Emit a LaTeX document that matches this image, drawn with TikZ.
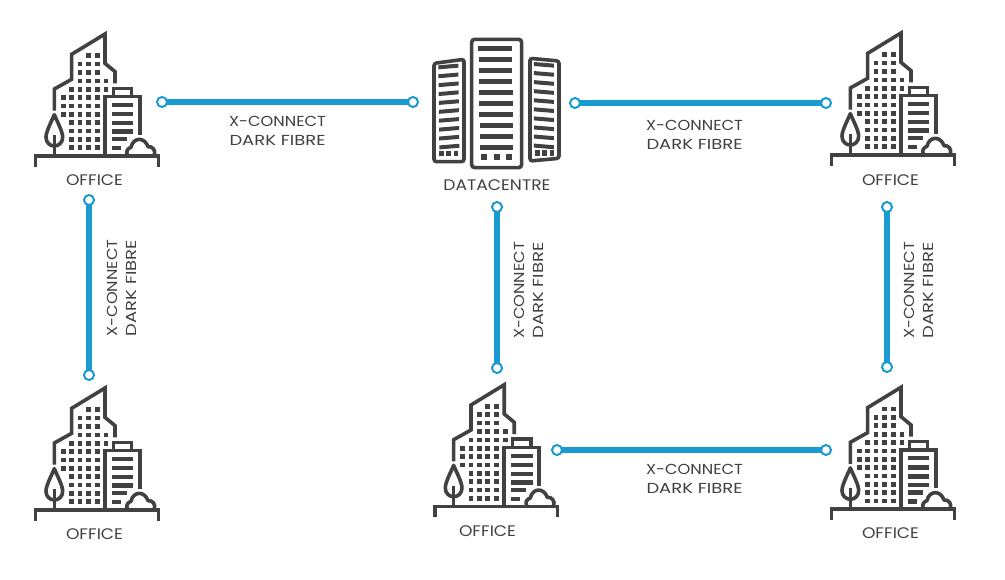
\documentclass[tikz,border=0pt]{standalone}
\usepackage{fontspec}
\setmainfont[FakeStretch=1.12]{Poppins}
\newfontfamily\widefont[FakeStretch=1.24]{Poppins}
\newcommand{\xclabel}{X-CONNECT\\{\widefont DARK FIBRE}}
\definecolor{ink}{HTML}{414042}
\definecolor{fibre}{HTML}{1B9AD2}
\tikzset{
  x=1pt,y=-1pt,
  lbl/.style={inner sep=0pt,text=ink,font=\fontsize{14.5}{19}\selectfont,align=center},
  captxt/.style={inner sep=0pt,text=ink,font=\fontsize{15.3}{17}\selectfont},
  endpt/.style={circle,draw=fibre,fill=white,line width=2pt,minimum size=10pt,inner sep=0pt,outer sep=0pt},
  link/.style={draw=fibre,line width=6.3pt},
  linkthin/.style={draw=fibre,line width=5.3pt},
  icon/.style={draw=ink,line width=3.6pt,line join=miter,fill=none},
  win/.style={fill=ink,draw=none},
  office/.pic={
    \begin{scope}[x=0.3333pt,y=-0.3333pt]
      % ground
      \draw[icon] (47,440) -- (47,408) -- (415,408) -- (415,440);
      % tower
      \draw[icon] (103,272) -- (103,207) -- (155,178) -- (155,103) -- (255,42) -- (255,130) -- (285,155) -- (285,190);
      % annex
      \draw[icon] (255,405) -- (255,230) -- (360,230) -- (360,345);
      \draw[icon] (280,230) -- (280,205) -- (335,205) -- (335,230);
      % bars
      \foreach \yy/\xe in {255/340,283/340,310/340,335/340,358/320,385/302}
        \fill[win] (275,\yy-6.5) rectangle (\xe,\yy+6.5);
      % windows
      \foreach \yy/\xs in {107/{205,232},132/{180,205,232},157/{180,205,232},183/{180,205,232,258},208/{155,180,205,232,258},233/{130,155,180,205,232},258/{130,155,180,205,232},283/{130,155,180,205,232},308/{155,180,205,232},333/{155,180,205,232},358/{155,180,205,232},383/{155,180,205,232}}
        \foreach \xx in \xs
          \fill[win] (\xx-7,\yy-7) rectangle (\xx+7,\yy+7);
      % tree
      \draw[icon,line join=round] (103,284) .. controls (92,310) and (78,335) .. (78,352) .. controls (78,368) and (90,378) .. (103,378) .. controls (116,378) and (128,368) .. (128,352) .. controls (128,335) and (114,310) .. (103,284) -- cycle;
      \draw[icon] (103,345) -- (103,408);
      % bush
      \draw[icon,line join=round] (322,405) .. controls (316,392) and (326,384) .. (333,382) .. controls (336,366) and (348,358) .. (358,358) .. controls (370,358) and (380,368) .. (384,380) .. controls (398,378) and (408,392) .. (403,405);
    \end{scope}
  },
  dc/.pic={
    \begin{scope}[x=0.3333pt,y=-0.3333pt]
      \draw[icon,rounded corners=3pt] (155,43) rectangle (305,428);
      \foreach \i in {0,...,9}
        \fill[win] (175+\i*0.55,{69+\i*33.3-7.5}) rectangle (276+\i*0.45,{69+\i*33.3+7.5});
      \foreach \xx in {192,230,267}
        \fill[win] (\xx-9,386) rectangle (\xx+9,405);
      \draw[icon,rounded corners=2.5pt] (42,115) -- (132,103) -- (132,410) -- (42,410) -- cycle;
      \foreach \i in {0,...,9}
        \fill[win] (55+\i*0.33,{127+\i*26.7-6}) -- (115+\i*0.33,{122+\i*26.7-6}) -- (115+\i*0.33,{122+\i*26.7+6}) -- (55+\i*0.33,{127+\i*26.7+6}) -- cycle;
      \foreach \xx in {65,86,108}
        \fill[win] (\xx-7,378) rectangle (\xx+7,394);
      \draw[icon,rounded corners=2.5pt] (330,100) -- (417,108) -- (417,400) -- (330,408) -- cycle;
      \foreach \i in {0,...,9}
        \fill[win] (342,{117+\i*27.2-6}) -- (402,{122+\i*27.2-6}) -- (402,{122+\i*27.2+6}) -- (342,{117+\i*27.2+6}) -- cycle;
      \foreach \xx in {352,374,396}
        \fill[win] (\xx-7,376) rectangle (\xx+7,392);
    \end{scope}
  }
}
\begin{document}
\begin{tikzpicture}
\useasboundingbox (0,0) rectangle (1005,579);
\fill[white] (0,0) rectangle (1005,579);
% icons
\pic at (20,20) {office};
\pic at (816,19) {office};
\pic at (20,374) {office};
\pic at (419.3,370.7) {office};
\pic at (816,373.3) {office};
\pic at (420,25) {dc};
% captions
\node[captxt] (c1) at (94.5,180.5) {OFFICE};
\node[captxt] (c2) at (890.5,180) {OFFICE};
\node[captxt] (c3) at (94.5,534) {OFFICE};
\node[captxt] (c4) at (487.5,531) {OFFICE};
\node[captxt] (c5) at (890.5,533.5) {OFFICE};
\node[captxt] (c6) at (497,185) {DATACENTRE};
% endpoints
\node[endpt] (a1) at (162,102) {};
\node[endpt] (a2) at (413,102) {};
\node[endpt] (b1) at (575,103) {};
\node[endpt] (b2) at (826,103) {};
\node[endpt] (d1) at (89,200) {};
\node[endpt] (d2) at (89,375) {};
\node[endpt] (e1) at (497,207) {};
\node[endpt] (e2) at (497,368) {};
\node[endpt] (f1) at (887,207) {};
\node[endpt] (f2) at (887,367) {};
\node[endpt] (g1) at (557,450) {};
\node[endpt] (g2) at (826,450) {};
% connectors
\path[linkthin] (a1) -- (a2);
\path[link] (b1) -- (b2);
\path[link] (d1) -- (d2);
\path[link] (e1) -- (e2);
\path[link] (f1) -- (f2);
\path[link] (g1) -- (g2);
% labels
\node[lbl] (l1) at (277.5,130.5) {\xclabel};
\node[lbl] (l2) at (694.5,134.5) {\xclabel};
\node[lbl] (l3) at (694.5,478.5) {\xclabel};
\node[lbl,rotate=90] (l4) at (121.5,288) {\xclabel};
\node[lbl,rotate=90] (l5) at (529,290.5) {\xclabel};
\node[lbl,rotate=90] (l6) at (919,290.5) {\xclabel};
\end{tikzpicture}
\end{document}
